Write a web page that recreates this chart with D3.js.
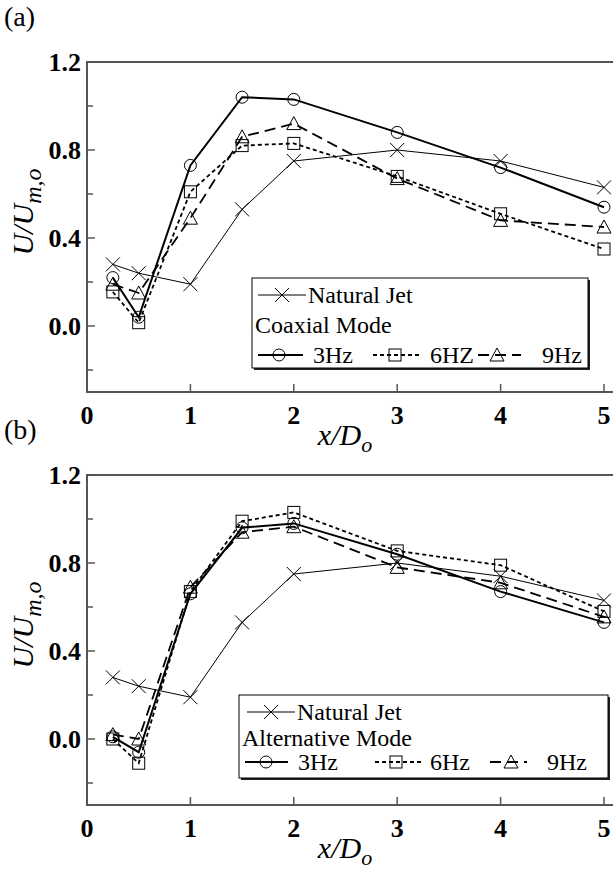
<!DOCTYPE html>
<html>
<head>
<meta charset="utf-8">
<script src="https://cdn.jsdelivr.net/npm/d3@7"></script>
<style>
  body { margin: 0; background: #fff; }
</style>
</head>
<body>
<svg width="613" height="869"></svg>
<script>
var width = 613,
    height = 869;

// x/Do stations
var xPos = [0.25, 0.5, 1, 1.5, 2, 3, 4, 5];

var natural = [0.28, 0.24, 0.19, 0.53, 0.75, 0.80, 0.75, 0.63];
var naturalB = [0.28, 0.24, 0.19, 0.53, 0.75, 0.80, 0.74, 0.63];

// (a) coaxial mode
var coax3 = [0.22, 0.04, 0.73, 1.04, 1.03, 0.88, 0.72, 0.54];
var coax6 = [0.155, 0.015, 0.61, 0.82, 0.83, 0.68, 0.51, 0.35];
var coax9 = [0.19, 0.15, 0.49, 0.86, 0.92, 0.67, 0.48, 0.45];

// (b) alternative mode
var alt3 = [0.01, -0.06, 0.66, 0.96, 0.98, 0.84, 0.67, 0.53];
var alt6 = [0.0, -0.11, 0.67, 0.99, 1.03, 0.855, 0.79, 0.58];
var alt9 = [0.02, 0.0, 0.69, 0.94, 0.965, 0.78, 0.71, 0.555];

var xTicks = [0, 1, 2, 3, 4, 5];
var yMajor = [1.2, 0.8, 0.4, 0.0];
var yMinor = [1.0, 0.6, 0.2, -0.2];

var svg = d3.select("svg");
var axisColor = "#555";

// pick a Times-like face that is really installed
function pickFont() {
    var cands = ["Liberation Serif", "Tinos", "Times New Roman", "Times", "Nimbus Roman", "FreeSerif", "Noto Serif", "DejaVu Serif"];
    var probe = svg.append("text").attr("font-size", 40).text("Natural Jet Mode 0.8");
    probe.attr("font-family", "monospace");
    var base = probe.node().getComputedTextLength();
    var found = "serif";
    for (var i = 0; i < cands.length; i++) {
        probe.attr("font-family", "'" + cands[i] + "', monospace");
        if (Math.abs(probe.node().getComputedTextLength() - base) > 0.5) { found = "'" + cands[i] + "', serif"; break; }
    }
    probe.remove();
    return found;
}
svg.attr("font-family", pickFont());

var x = d3.scaleLinear().domain([0, 5]).range([87, 604]);
var y = d3.scaleLinear().domain([-0.3, 1.2]).range([330, 0]);

var line = d3.line()
    .x(function(d) { return x(d[0]); })
    .y(function(d) { return y(d[1]); });

// marker shapes, all hollow
function marker(g, type, cx, cy) {
    if (type == "x") {
        g.append("path")
         .attr("d", "M" + (cx - 7) + "," + (cy - 7) + "L" + (cx + 7) + "," + (cy + 7) +
                    "M" + (cx - 7) + "," + (cy + 7) + "L" + (cx + 7) + "," + (cy - 7))
         .attr("stroke", "#000").attr("stroke-width", 1);
    } else if (type == "circle") {
        g.append("circle").attr("cx", cx).attr("cy", cy).attr("r", 6)
         .attr("fill", "none").attr("stroke", "#000").attr("stroke-width", 1);
    } else if (type == "square") {
        g.append("rect").attr("x", cx - 6).attr("y", cy - 6).attr("width", 12).attr("height", 12)
         .attr("fill", "none").attr("stroke", "#000").attr("stroke-width", 1);
    } else if (type == "triangle") {
        g.append("path")
         .attr("d", "M" + cx + "," + (cy - 7) + "L" + (cx + 7) + "," + (cy + 6) + "L" + (cx - 7) + "," + (cy + 6) + "Z")
         .attr("fill", "none").attr("stroke", "#000").attr("stroke-width", 1);
    }
}

var styles = {
    natural: { width: 1, dash: null, marker: "x" },
    f3: { width: 2, dash: null, marker: "circle" },
    f6: { width: 1.8, dash: "4,3", marker: "square" },
    f9: { width: 1.8, dash: "11,6", marker: "triangle" }
};

function drawPanel(top, tag, series, modeName, leg) {
    var g = svg.append("g").attr("transform", "translate(0," + top + ")");

    // frame: left, bottom, top
    g.append("path")
     .attr("d", "M" + width + ",0H" + x(0) + "V" + y(-0.3) + "H" + width)
     .attr("fill", "none").attr("stroke", axisColor).attr("stroke-width", 2);

    // y ticks
    g.selectAll(".ymaj").data(yMajor).enter().append("line")
     .attr("x1", x(0)).attr("x2", x(0) + 8)
     .attr("y1", function(d) { return y(d); }).attr("y2", function(d) { return y(d); })
     .attr("stroke", axisColor).attr("stroke-width", 1.5);
    g.selectAll(".ymin").data(yMinor).enter().append("line")
     .attr("x1", x(0)).attr("x2", x(0) + 6)
     .attr("y1", function(d) { return y(d); }).attr("y2", function(d) { return y(d); })
     .attr("stroke", axisColor).attr("stroke-width", 1.5);
    g.selectAll(".ylab").data(yMajor).enter().append("text")
     .attr("x", x(0) - 6).attr("y", function(d) { return y(d) + 9; })
     .attr("text-anchor", "end").attr("font-size", 26).attr("font-weight", "bold")
     .text(function(d) { return d3.format(".1f")(d); });

    // x ticks
    g.selectAll(".xt").data(xTicks.slice(1)).enter().append("line")
     .attr("x1", function(d) { return x(d); }).attr("x2", function(d) { return x(d); })
     .attr("y1", y(-0.3)).attr("y2", y(-0.3) - 8)
     .attr("stroke", axisColor).attr("stroke-width", 1.5);
    g.selectAll(".xlab").data(xTicks).enter().append("text")
     .attr("x", function(d) { return x(d); }).attr("y", y(-0.3) + 32)
     .attr("text-anchor", "middle").attr("font-size", 26).attr("font-weight", "bold")
     .text(function(d) { return d; });

    // axis titles
    var xt = g.append("text").attr("x", 345).attr("y", 383)
     .attr("text-anchor", "middle").attr("font-size", 30).attr("font-style", "italic");
    xt.append("tspan").text("x/D");
    xt.append("tspan").attr("dy", 7).attr("font-size", 22).text("o");

    var yt = g.append("text").attr("transform", "translate(33,150) rotate(-90)")
     .attr("text-anchor", "middle").attr("font-size", 30).attr("font-style", "italic");
    yt.append("tspan").text("U/U");
    yt.append("tspan").attr("dy", 8).attr("font-size", 24).text("m,o");

    // panel tag
    svg.append("text").attr("x", 4).attr("y", top - 36).attr("font-size", 28).text(tag);

    // series
    series.forEach(function(s) {
        var st = styles[s.key];
        var pts = xPos.map(function(v, i) { return [v, s.values[i]]; });
        g.append("path").datum(pts).attr("d", line)
         .attr("fill", "none").attr("stroke", "#000")
         .attr("stroke-width", st.width)
         .attr("stroke-dasharray", st.dash);
        pts.forEach(function(p) { marker(g, st.marker, x(p[0]), y(p[1])); });
    });

    // legend
    var lg = g.append("g");
    lg.append("rect").attr("x", leg.x0 + 2).attr("y", leg.y0 + 2)
      .attr("width", leg.x1 - leg.x0).attr("height", leg.y1 - leg.y0).attr("fill", "#222");
    lg.append("rect").attr("x", leg.x0).attr("y", leg.y0)
      .attr("width", leg.x1 - leg.x0).attr("height", leg.y1 - leg.y0)
      .attr("fill", "#fff").attr("stroke", "#000").attr("stroke-width", 1);

    lg.append("text").attr("x", leg.x0 + 3).attr("y", leg.modeY).attr("font-size", 24).text(modeName);
    leg.items.forEach(function(it) {
        var st = styles[it.key];
        var cy = it.y - 8;
        lg.append("line").attr("x1", it.l0).attr("x2", it.l1).attr("y1", cy).attr("y2", cy)
          .attr("stroke", "#000").attr("stroke-width", st.width).attr("stroke-dasharray", st.dash);
        marker(lg, st.marker, it.m, cy);
        lg.append("text").attr("x", it.tx).attr("y", it.y).attr("font-size", 24).text(it.label);
    });
}

drawPanel(62, "(a)", [
    { key: "natural", values: natural },
    { key: "f3", values: coax3 },
    { key: "f6", values: coax6 },
    { key: "f9", values: coax9 }
], "Coaxial Mode", {
    x0: 252, x1: 588, y0: 216, y1: 306, modeY: 271,
    items: [
        { key: "natural", label: "Natural Jet", y: 241, l0: 258, l1: 306, m: 282, tx: 308 },
        { key: "f3", label: "3Hz", y: 301, l0: 258, l1: 303, m: 279, tx: 313 },
        { key: "f6", label: "6HZ", y: 301, l0: 373, l1: 419, m: 395, tx: 430 },
        { key: "f9", label: "9Hz", y: 301, l0: 478, l1: 521, m: 497, tx: 542 }
    ]
});

drawPanel(475, "(b)", [
    { key: "natural", values: naturalB },
    { key: "f3", values: alt3 },
    { key: "f6", values: alt6 },
    { key: "f9", values: alt9 }
], "Alternative Mode", {
    x0: 239, x1: 608, y0: 220, y1: 303, modeY: 271,
    items: [
        { key: "natural", label: "Natural Jet", y: 245, l0: 247, l1: 295, m: 271, tx: 297 },
        { key: "f3", label: "3Hz", y: 295, l0: 245, l1: 288, m: 266, tx: 298 },
        { key: "f6", label: "6Hz", y: 295, l0: 375, l1: 422, m: 396, tx: 430 },
        { key: "f9", label: "9Hz", y: 295, l0: 490, l1: 527, m: 511, tx: 547 }
    ]
});
</script>
</body>
</html>
